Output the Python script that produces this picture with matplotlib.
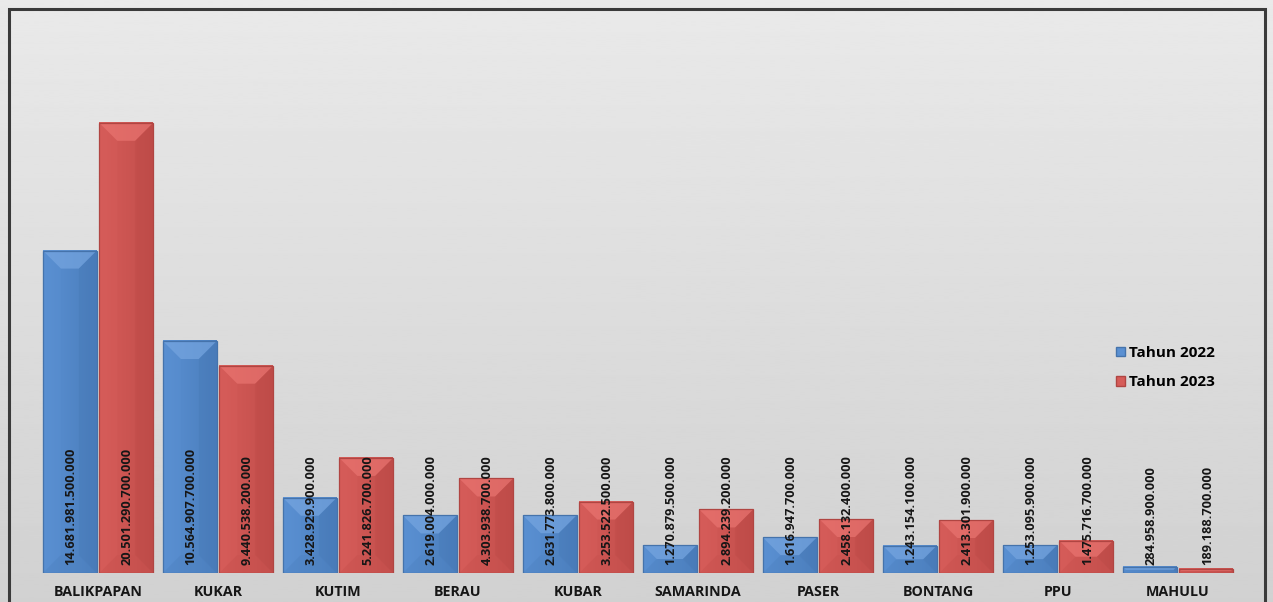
import matplotlib.pyplot as plt
import numpy as np
from matplotlib.patches import Polygon, Rectangle, Patch

categories = ['BALIKPAPAN', 'KUKAR', 'KUTIM', 'BERAU', 'KUBAR',
              'SAMARINDA', 'PASER', 'BONTANG', 'PPU', 'MAHULU']
tahun_2022 = [14681981500000, 10564907700000, 3428929900000, 2619004000000,
              2631773800000, 1270879500000, 1616947700000, 1243154100000,
              1253095900000, 284958900000]
tahun_2023 = [20501290700000, 9440538200000, 5241826700000, 4303938700000,
              3253522500000, 2894239200000, 2458132400000, 2413301900000,
              1475716700000, 189188700000]
series_labels = ['Tahun 2022', 'Tahun 2023']

W, H = 1273, 602
fig = plt.figure(figsize=(W / 100, H / 100), dpi=100)

# gradient background
bg = fig.add_axes([0, 0, 1, 1], zorder=0)
grad = np.linspace(0.915, 0.82, 256).reshape(-1, 1)
bg.imshow(grad, aspect='auto', cmap='gray', vmin=0, vmax=1, extent=[0, 1, 0, 1])
bg.add_patch(Rectangle((9 / W, -0.05), 1256 / W, (H - 9) / H + 0.05,
                       fill=False, edgecolor='#3a3a3a', lw=2.2))
bg.set_xlim(0, 1)
bg.set_ylim(0, 1)
bg.axis('off')

ax = fig.add_axes([38 / W, 29 / H, 1200 / W, 549 / H], zorder=1)
ax.patch.set_alpha(0)
ymax = 25e12
for s in ax.spines.values():
    s.set_visible(False)
ax.set_yticks([])

px_x = 120.0          # pixels per category
px_y = 549.0 / ymax   # pixels per unit value
bw = 0.45
off = 0.235

palettes = {
    'blue': dict(face_l='#5a90d2', face_r='#4b7ebd', top='#79a8e2', left='#5b91d3',
                 right='#4576b2', bottom='#4f83c2', edge='#4573ab'),
    'red': dict(face_l='#d65c59', face_r='#c24e4b', top='#ec7773', left='#d75e5b',
                right='#b84744', bottom='#c9524f', edge='#b04542'),
}


def bevel_bar(x, val, pal):
    x0, x1 = x - bw / 2, x + bw / 2
    h_px = val * px_y
    b_px = min(18, h_px / 2, bw * px_x / 2)
    bx = b_px / px_x
    by = b_px / px_y
    c = palettes[pal]
    # horizontal face gradient
    cmap = plt.matplotlib.colors.LinearSegmentedColormap.from_list(
        'f', [c['face_l'], c['face_r']])
    ax.imshow(np.linspace(0, 1, 64).reshape(1, -1), cmap=cmap, aspect='auto',
              extent=[x0, x1, 0, val], zorder=2, interpolation='bilinear')
    polys = [
        ([(x0, val), (x1, val), (x1 - bx, val - by), (x0 + bx, val - by)], c['top'], 0.65),
        ([(x0, 0), (x1, 0), (x1 - bx, by), (x0 + bx, by)], c['bottom'], 0.45),
        ([(x0, 0), (x0, val), (x0 + bx, val - by), (x0 + bx, by)], c['left'], 0.3),
        ([(x1, 0), (x1, val), (x1 - bx, val - by), (x1 - bx, by)], c['right'], 0.3),
    ]
    for pts, col, a in polys:
        ax.add_patch(Polygon(pts, closed=True, facecolor=col, edgecolor='none',
                             alpha=a, zorder=3))
    ax.add_patch(Rectangle((x0, 0), bw, val, facecolor='none',
                           edgecolor=c['edge'], lw=0.9, zorder=4))


def fmt(v):
    return f'{v:,}'.replace(',', '.')


xs = np.arange(len(categories))
for i in xs:
    for vals, dx, pal in [(tahun_2022, -off, 'blue'), (tahun_2023, off, 'red')]:
        bevel_bar(i + dx, vals[i], pal)
        ax.text(i + dx + 0.01, 8 / px_y, fmt(vals[i]), rotation=90, ha='center',
                va='bottom', fontsize=9.2, fontweight='bold', color='#161616',
                family='Open Sans', zorder=5)

ax.set_xlim(-0.5, len(categories) - 0.5)
ax.set_ylim(0, ymax)
ax.set_xticks(xs)
ax.set_xticklabels(categories, fontsize=10.3, fontweight='bold', family='Open Sans',
                   color='#161616')
ax.tick_params(axis='x', length=0, pad=9)

handles = [Patch(facecolor=palettes['blue']['face_l'], edgecolor=palettes['blue']['edge']),
           Patch(facecolor=palettes['red']['face_l'], edgecolor=palettes['red']['edge'])]
fig.legend(handles, series_labels, loc='upper left',
           bbox_to_anchor=(1110 / W, 1 - 340 / H), frameon=False,
           prop={'family': 'Open Sans', 'weight': 'bold', 'size': 11},
           handlelength=0.55, handleheight=0.55, handletextpad=0.3,
           labelspacing=1.0, borderaxespad=0)

fig.savefig('out.png', dpi=100)
